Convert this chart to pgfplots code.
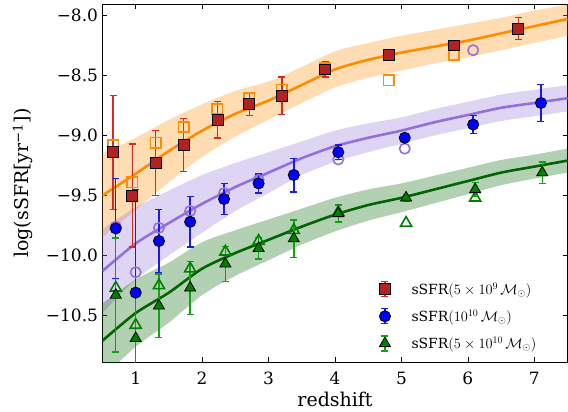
\documentclass[border=0pt]{standalone}
\usepackage{pgfplots}
\pgfplotsset{compat=1.18}
\usepackage{pgfplotstable}
\usepgfplotslibrary{fillbetween}
\usepackage{fontspec}
\setmainfont{DejaVu Serif}

\definecolor{dorange}{HTML}{FF8C00}
\definecolor{mpurple}{HTML}{9370DB}
\definecolor{dgreen}{HTML}{006400}
\definecolor{fbrick}{HTML}{B22222}
\definecolor{mgreen}{HTML}{008000}
\definecolor{mblue}{HTML}{0000FF}
\definecolor{ebred}{HTML}{D42A2A}
\definecolor{ebgreen}{HTML}{14A014}
\definecolor{ebblue}{HTML}{1A1AF0}

% model curves: z, median, lower, upper
\pgfplotstableread{
z mid lo hi
0.5 -9.50 -9.85 -9.15
1.0 -9.32 -9.62 -9.02
1.5 -9.13 -9.39 -8.87
2.0 -8.96 -9.18 -8.74
2.5 -8.82 -9.01 -8.63
3.0 -8.71 -8.87 -8.55
3.5 -8.58 -8.73 -8.43
4.0 -8.45 -8.60 -8.30
4.5 -8.37 -8.52 -8.23
5.0 -8.31 -8.46 -8.17
5.5 -8.26 -8.40 -8.12
6.0 -8.21 -8.35 -8.07
6.5 -8.15 -8.29 -8.02
7.0 -8.09 -8.23 -7.96
7.5 -8.03 -8.17 -7.91
}\orangemodel

\pgfplotstableread{
z mid lo hi
0.5 -10.13 -10.48 -9.78
1.0 -9.90 -10.20 -9.60
1.5 -9.73 -10.00 -9.46
2.0 -9.57 -9.81 -9.33
2.5 -9.43 -9.63 -9.23
3.0 -9.31 -9.48 -9.14
3.5 -9.19 -9.33 -9.05
4.0 -9.09 -9.22 -8.96
4.5 -9.02 -9.14 -8.90
5.0 -8.96 -9.07 -8.85
5.5 -8.89 -9.00 -8.78
6.0 -8.83 -8.94 -8.72
6.5 -8.77 -8.88 -8.66
7.0 -8.73 -8.84 -8.62
7.5 -8.69 -8.80 -8.58
}\purplemodel

\pgfplotstableread{
z mid lo hi
0.5 -10.71 -11.02 -10.40
1.0 -10.48 -10.76 -10.20
1.5 -10.31 -10.56 -10.06
2.0 -10.11 -10.33 -9.89
2.5 -9.98 -10.17 -9.79
3.0 -9.87 -10.04 -9.70
3.5 -9.76 -9.91 -9.61
4.0 -9.66 -9.80 -9.52
4.5 -9.58 -9.71 -9.45
5.0 -9.52 -9.64 -9.40
5.5 -9.45 -9.565 -9.335
6.0 -9.38 -9.49 -9.27
6.5 -9.31 -9.415 -9.205
7.0 -9.26 -9.36 -9.16
7.5 -9.21 -9.31 -9.11
}\greenmodel

% observed points: z, value, error
\pgfplotstableread{
z y e
0.66 -9.14 0.475
0.95 -9.50 0.43
1.30 -9.23 0.27
1.72 -9.08 0.22
2.23 -8.87 0.15
2.71 -8.74 0.095
3.20 -8.67 0.155
3.85 -8.45 0.065
4.81 -8.33 0.03
5.79 -8.25 0.03
6.76 -8.11 0.09
}\redpts

\pgfplotstableread{
z y e
0.70 -9.775 0.415
1.00 -10.31 0.86
1.35 -9.88 0.265
1.82 -9.72 0.21
2.33 -9.53 0.13
2.85 -9.40 0.08
3.38 -9.33 0.14
4.05 -9.14 0.06
5.05 -9.02 0.03
6.08 -8.91 0.075
7.10 -8.73 0.155
}\bluepts

\pgfplotstableread{
z y e
0.70 -10.33 0.475
1.00 -10.69 0.38
1.35 -10.42 0.265
1.82 -10.27 0.22
2.35 -10.07 0.145
2.85 -9.94 0.09
3.38 -9.86 0.155
4.05 -9.65 0.07
5.07 -9.52 0.03
6.11 -9.45 0.06
7.12 -9.31 0.09
}\greenpts

\pgfplotstableread{
z y
0.66 -9.08
0.95 -9.39
1.30 -9.06
1.72 -8.93
2.23 -8.78
2.71 -8.69
3.20 -8.62
3.85 -8.44
4.81 -8.54
5.79 -8.33
}\orangeopen

\pgfplotstableread{
z y
0.70 -9.76
1.00 -10.14
1.35 -9.77
1.82 -9.63
2.33 -9.48
2.85 -9.37
4.05 -9.20
5.05 -9.11
6.08 -8.29
}\purpleopen

\pgfplotstableread{
z y
0.70 -10.27
1.00 -10.58
1.35 -10.25
1.82 -10.11
2.35 -9.97
2.85 -9.88
3.38 -9.79
4.05 -9.64
5.07 -9.73
6.11 -9.52
}\greenopen

\pgfplotsset{
  ebar/.style={only marks, mark=none, forget plot,
    error bars/.cd, y dir=both, y explicit,
    draw error bar/.code 2 args={%
      \draw[#1, line width=1.4pt] ##1 -- ##2;
      \draw[#1, line width=1.4pt] ##2 +(-3.5pt,0pt) -- +(3.5pt,0pt);%
    }},
}

\begin{document}
\begin{tikzpicture}
\begin{axis}[
  name=ax,
  scale only axis,
  width=466pt, height=359pt,
  xmin=0.5, xmax=7.5,
  ymin=-10.89, ymax=-7.905,
  axis line style={black, line width=0.8pt},
  tick align=inside,
  major tick length=5pt,
  tick style={black, line width=0.7pt},
  xtick={1,2,3,4,5,6,7},
  xticklabels={1,2,3,4,5,6,7},
  ytick={-10.5,-10,-9.5,-9,-8.5,-8},
  yticklabels={−10.5,−10.0,−9.5,−9.0,−8.5,−8.0},
  tick label style={font=\fontsize{17}{20}\selectfont},
  xticklabel style={yshift=-6pt},
  yticklabel style={xshift=-1pt},
  xlabel={redshift},
  ylabel={log(sSFR[yr\textsuperscript{−1}])},
  label style={font=\fontsize{19}{22}\selectfont},
  xlabel style={yshift=-1pt},
  ylabel style={yshift=6pt},
  legend style={draw=none, fill=none, at={(0.595,0.028)}, anchor=south west,
    font=\fontsize{14}{16}\selectfont, row sep=10pt, inner sep=0pt},
  legend cell align=left,
]
% bands
\addplot[name path=oL, draw=none, smooth, forget plot] table[x=z, y=lo]{\orangemodel};
\addplot[name path=oH, draw=none, smooth, forget plot] table[x=z, y=hi]{\orangemodel};
\addplot[fill=dorange, fill opacity=0.3, draw=none, forget plot] fill between[of=oL and oH];
\addplot[name path=pL, draw=none, smooth, forget plot] table[x=z, y=lo]{\purplemodel};
\addplot[name path=pH, draw=none, smooth, forget plot] table[x=z, y=hi]{\purplemodel};
\addplot[fill=mpurple, fill opacity=0.3, draw=none, forget plot] fill between[of=pL and pH];
\addplot[name path=gL, draw=none, smooth, forget plot] table[x=z, y=lo]{\greenmodel};
\addplot[name path=gH, draw=none, smooth, forget plot] table[x=z, y=hi]{\greenmodel};
\addplot[fill=dgreen, fill opacity=0.3, draw=none, forget plot] fill between[of=gL and gH];
% model lines
\addplot[dorange, line width=2.6pt, smooth, tension=0.4, forget plot] table[x=z, y=mid]{\orangemodel};
\addplot[mpurple, line width=2.6pt, smooth, tension=0.4, forget plot] table[x=z, y=mid]{\purplemodel};
\addplot[dgreen, line width=2.6pt, smooth, tension=0.4, forget plot] table[x=z, y=mid]{\greenmodel};
% open markers
\addplot[only marks, mark=square, mark size=5.2pt, mark options={draw=dorange, line width=1.6pt}, forget plot] table[x=z, y=y]{\orangeopen};
\addplot[only marks, mark=o, mark size=5.2pt, mark options={draw=mpurple, line width=1.6pt}, forget plot] table[x=z, y=y]{\purpleopen};
\addplot[only marks, mark=triangle, mark size=6.4pt, mark options={draw=mgreen, line width=1.6pt}, forget plot] table[x=z, y=y]{\greenopen};
% error bars
\addplot[ebred, ebar=ebred] table[x=z, y=y, y error=e]{\redpts};
\addplot[ebblue, ebar=ebblue] table[x=z, y=y, y error=e]{\bluepts};
\addplot[ebgreen, ebar=ebgreen] table[x=z, y=y, y error=e]{\greenpts};
% filled markers
\addplot[only marks, mark=square*, mark size=5.5pt, mark options={fill=fbrick, draw=black, line width=0.8pt}, forget plot] table[x=z, y=y]{\redpts};
\addplot[only marks, mark=*, mark size=5.6pt, mark options={fill=mblue, draw=black, line width=0.8pt}, forget plot] table[x=z, y=y]{\bluepts};
\addplot[only marks, mark=triangle*, mark size=6.4pt, mark options={fill=mgreen, draw=black, line width=0.8pt}, forget plot] table[x=z, y=y]{\greenpts};
% legend entries
\addlegendimage{legend image code/.code={
  \draw[ebred, line width=1.2pt] (0pt,-7.5pt) -- (0pt,7.5pt) (-3.5pt,-7.5pt) -- (3.5pt,-7.5pt) (-3.5pt,7.5pt) -- (3.5pt,7.5pt);
  \draw[mark=square*, mark size=5.5pt, mark options={fill=fbrick, draw=black, line width=0.8pt}] plot coordinates {(0pt,0pt)};}}
\addlegendentry{\hspace*{19pt}$\mathrm{sSFR}(5\times10^{9}\,\mathcal{M}_\odot)$}
\addlegendimage{legend image code/.code={
  \draw[ebblue, line width=1.2pt] (0pt,-7.5pt) -- (0pt,7.5pt) (-3.5pt,-7.5pt) -- (3.5pt,-7.5pt) (-3.5pt,7.5pt) -- (3.5pt,7.5pt);
  \draw[mark=*, mark size=5.6pt, mark options={fill=mblue, draw=black, line width=0.8pt}] plot coordinates {(0pt,0pt)};}}
\addlegendentry{\hspace*{19pt}$\mathrm{sSFR}(10^{10}\,\mathcal{M}_\odot)$}
\addlegendimage{legend image code/.code={
  \draw[ebgreen, line width=1.2pt] (0pt,-7.5pt) -- (0pt,7.5pt) (-3.5pt,-7.5pt) -- (3.5pt,-7.5pt) (-3.5pt,7.5pt) -- (3.5pt,7.5pt);
  \draw[mark=triangle*, mark size=6.4pt, mark options={fill=mgreen, draw=black, line width=0.8pt}] plot coordinates {(0pt,0pt)};}}
\addlegendentry{\hspace*{19pt}$\mathrm{sSFR}(5\times10^{10}\,\mathcal{M}_\odot)$}
\end{axis}
\pgfresetboundingbox
\path ([shift={(-102.7pt,-49pt)}]ax.south west) rectangle ([shift={(0.5pt,4pt)}]ax.north east);
\end{tikzpicture}
\end{document}
